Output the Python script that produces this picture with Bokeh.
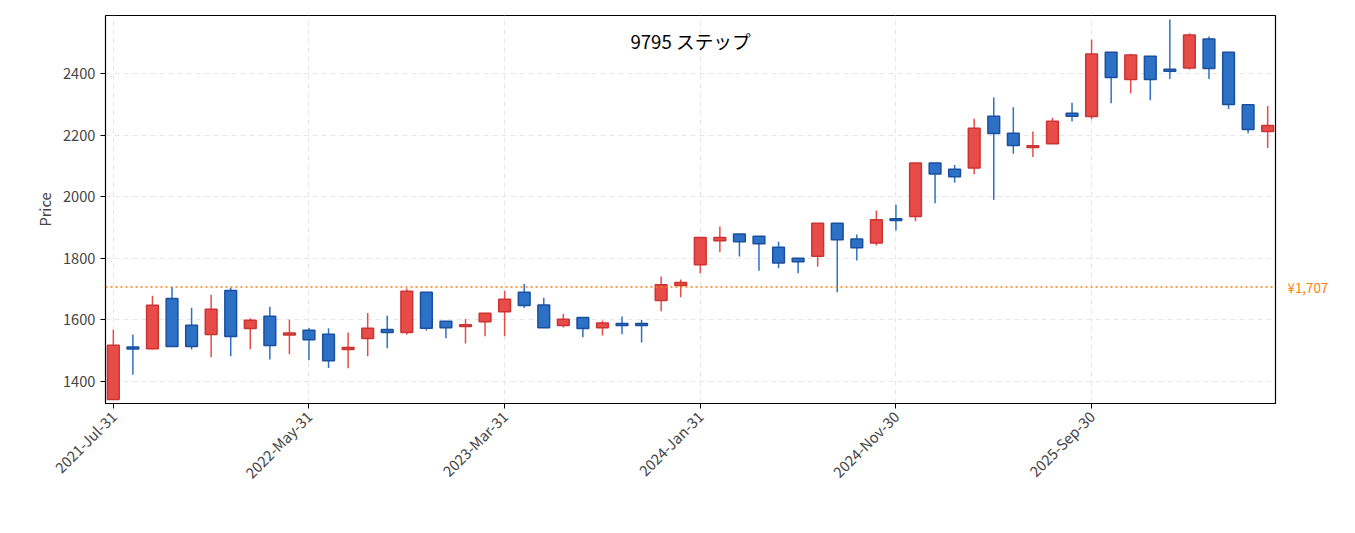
import pandas as pd
from bokeh.plotting import figure
from bokeh.models import Label, Span, Range1d, FixedTicker, LinearAxis
from bokeh.embed import file_html
from bokeh.resources import INLINE

dates = [d.strftime("%Y-%b-%d") for d in pd.date_range("2021-07-31", periods=60, freq="ME")]
opens = [1342,1509,1507,1670,1583,1553,1696,1572,1612,1554,1567,1554,1504,1540,1569,
         1559,1690,1596,1581,1594,1627,1690,1649,1582,1608,1575,1586,1586,1663,1712,
         1779,1857,1879,1872,1836,1800,1807,1914,1863,1850,1926,1936,2109,2089,2093,
         2261,2206,2162,2172,2271,2260,2469,2380,2456,2411,2418,2512,2469,2298,2212]
closes = [1518,1509,1648,1514,1514,1635,1546,1599,1517,1555,1536,1468,1511,1573,1559,
          1693,1573,1575,1582,1622,1667,1647,1575,1602,1572,1590,1585,1585,1714,1722,
          1868,1868,1854,1847,1785,1789,1914,1860,1834,1925,1925,2109,2074,2065,2222,
          2205,2166,2163,2245,2261,2463,2387,2460,2380,2410,2525,2416,2299,2218,2231]
highs = [1568,1553,1679,1708,1640,1682,1705,1606,1643,1601,1574,1573,1559,1623,1614,
         1702,1690,1596,1603,1622,1695,1717,1672,1620,1608,1598,1611,1600,1741,1731,
         1868,1903,1879,1872,1854,1800,1914,1914,1877,1955,1974,2109,2109,2103,2253,
         2322,2290,2212,2256,2305,2510,2469,2464,2456,2575,2530,2520,2469,2298,2294]
lows = [1342,1422,1504,1514,1504,1479,1482,1505,1472,1489,1469,1444,1443,1482,1508,
        1552,1566,1541,1524,1547,1547,1639,1575,1576,1544,1550,1554,1527,1628,1674,
        1752,1820,1806,1760,1768,1752,1773,1690,1793,1842,1890,1920,1979,2045,2073,
        1990,2139,2129,2172,2244,2251,2303,2336,2313,2382,2412,2382,2285,2206,2158]
ref_price = 1707
ref_label = "¥1,707"
title = "9795 ステップ"

FONT = "Noto Sans CJK JP"
p = figure(width=1345, height=525, output_backend="svg", toolbar_location=None,
           min_border_left=105, min_border_right=70, min_border_top=15, min_border_bottom=122,
           x_range=Range1d(-0.4, 59.4), y_range=Range1d(1329, 2588))
p.outline_line_color = "black"
p.outline_line_width = 1.2

xs = list(range(len(opens)))
up_set = set(i for i in xs if closes[i] >= opens[i] and i not in (1, 26, 27, 40, 49, 54))
for idx_list, fill, line in [([i for i in xs if i in up_set], "#e84c48", "#cc3333"),
                             ([i for i in xs if i not in up_set], "#2d71c6", "#1a4f9e")]:
    p.segment(idx_list, [highs[i] for i in idx_list],
              idx_list, [lows[i] for i in idx_list], line_color=fill, line_width=1.5)
    tops = [max(opens[i], closes[i]) for i in idx_list]
    bots = [min(opens[i], closes[i]) for i in idx_list]
    bots = [b if t - b > 4 else (t + b) / 2 - 3 for t, b in zip(tops, bots)]
    tops = [t if t - b > 4 else b + 6 for t, b in zip(tops, bots)]
    p.vbar(x=idx_list, top=tops, bottom=bots, width=0.6, fill_color=fill, line_color=line, line_width=1.5)

p.add_layout(Span(location=ref_price, dimension="width", line_color="#ff7f0e",
                  line_dash="2 3", line_width=1.5))
p.add_layout(Label(x=29.5, y=2588, y_offset=-38, text=title, text_align="center",
                   text_font=FONT, text_font_size="14pt", text_color="black"))

rax = LinearAxis(ticker=FixedTicker(ticks=[ref_price]),
                 major_label_overrides={ref_price: ref_label},
                 major_label_text_color="#ff7f0e", major_label_text_font=FONT,
                 major_label_text_font_size="10pt", major_tick_line_color=None,
                 minor_tick_line_color=None, axis_line_color=None, major_label_standoff=6)
for k, v in [("major_label_border_line_color", "#ff7f0e"),
             ("major_label_background_fill_color", "white"),
             ("major_label_padding", 2)]:
    try:
        setattr(rax, k, v)
    except Exception:
        pass
p.add_layout(rax, "right")

tick_idx = list(range(0, 60, 10))
p.xaxis.ticker = FixedTicker(ticks=tick_idx)
p.xaxis.major_label_overrides = {i: dates[i] for i in tick_idx}
p.xaxis.major_label_orientation = 0.785
p.yaxis[0].ticker = FixedTicker(ticks=[1400, 1600, 1800, 2000, 2200, 2400])
p.yaxis[0].axis_label = "Price"
p.yaxis[0].axis_label_text_font_style = "normal"
p.yaxis[0].axis_label_text_font = FONT
p.yaxis[0].axis_label_text_font_size = "11pt"
for ax in (p.xaxis[0], p.yaxis[0]):
    ax.major_label_text_font = FONT
    ax.major_label_text_font_size = "11pt"
    ax.minor_tick_line_color = None
    ax.major_tick_out = 5
    ax.major_tick_in = 0
    ax.axis_line_color = None
p.grid.grid_line_color = "#e6e6e6"
p.grid.grid_line_dash = "5 4"

open("out.html", "w").write(file_html(p, INLINE))
